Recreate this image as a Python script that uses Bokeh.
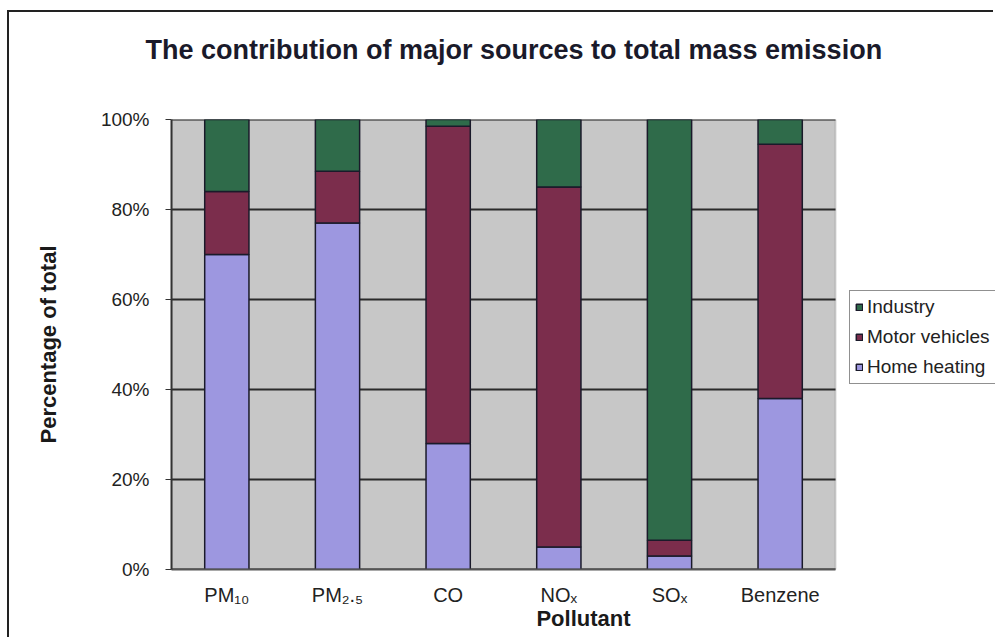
from bokeh.plotting import figure
from bokeh.models import (FixedTicker, PrintfTickFormatter, Legend, LegendItem,
                          Title, Range1d, BoxAnnotation)
from bokeh.embed import file_html
from bokeh.resources import INLINE

pollutants = ["PM₁₀", "PM₂.₅", "CO", "NOₓ", "SOₓ", "Benzene"]
home_heating = [70, 77, 28, 5, 3, 38]
motor_vehicles = [14, 11.5, 70.5, 80, 3.5, 56.5]
industry = [16, 11.5, 1.5, 15, 93.5, 5.5]
series = ["home_heating", "motor_vehicles", "industry"]
series_labels = ["Home heating", "Motor vehicles", "Industry"]
colors = ["#9d97e0", "#7b2d4c", "#2f6b4a"]
y_ticks = [0, 20, 40, 60, 80, 100]
title_text = "The contribution of major sources to total mass emission"

FONT = "Liberation Sans"
n = len(pollutants)
xpos = [i + 0.5 for i in range(n)]
# plot area occupies 664 px of the 824 px wide frame; legend sits to its right
x_end = n * 824 / 664

p = figure(x_range=Range1d(0, x_end), y_range=Range1d(0, 100),
           width=986, height=627,
           output_backend="svg", toolbar_location=None, title_location=None,
           min_border_left=162, min_border_right=0,
           min_border_top=0, min_border_bottom=70)
p.styles = {"margin-left": "7px", "margin-top": "10px",
            "border-left": "2px solid #222", "border-top": "2px solid #222"}

spacer = Title(text=" ", text_font_size="1px", standoff=31)
p.add_layout(spacer, "above")
title = Title(text=title_text, align="left", text_font=FONT,
              text_font_size="27px", text_font_style="bold",
              text_color="#1a1a2a", standoff=41, offset=-26)
p.add_layout(title, "above")

p.background_fill_color = "white"
p.outline_line_color = None
p.xgrid.grid_line_color = None
p.ygrid.grid_line_color = None

plot_area = BoxAnnotation(left=0, right=n, bottom=0, top=100,
                          fill_color="#c7c7c7", fill_alpha=1,
                          line_color="#808080", line_width=2, level="underlay")
p.add_layout(plot_area)

p.segment(x0=[0] * len(y_ticks), x1=[n] * len(y_ticks), y0=y_ticks, y1=y_ticks,
          line_color="#2a2a2a", line_width=2)

data = dict(x=xpos, home_heating=home_heating,
            motor_vehicles=motor_vehicles, industry=industry)
rs = p.vbar_stack(series, x="x", width=0.4, color=colors,
                  line_color="#1a1a2a", line_width=1.5, source=data)

p.yaxis.ticker = FixedTicker(ticks=y_ticks)
p.yaxis.formatter = PrintfTickFormatter(format="%d%%")
p.yaxis.minor_tick_line_color = None
p.yaxis.major_tick_out = 6
p.yaxis.major_tick_in = 0
p.yaxis.major_tick_line_color = "#333"
p.yaxis.axis_line_color = "#333"
p.yaxis.axis_line_width = 2
p.yaxis.major_label_standoff = 16
p.yaxis.major_label_text_font = FONT
p.yaxis.major_label_text_font_size = "19px"
p.yaxis.major_label_text_color = "#222"
p.yaxis.axis_label = "Percentage of total"
p.yaxis.axis_label_text_font = FONT
p.yaxis.axis_label_text_font_size = "22px"
p.yaxis.axis_label_text_font_style = "bold"
p.yaxis.axis_label_text_color = "#1a1a1a"
p.yaxis.axis_label_standoff = 37

p.xaxis.ticker = FixedTicker(ticks=xpos)
p.xaxis.major_label_overrides = {x: lab for x, lab in zip(xpos, pollutants)}
p.xaxis.bounds = (0, n)
p.xaxis.minor_tick_line_color = None
p.xaxis.major_tick_out = 0
p.xaxis.major_tick_in = 0
p.xaxis.axis_line_color = "#555"
p.xaxis.axis_line_width = 2
p.xaxis.major_label_standoff = 14
p.xaxis.major_label_text_font = FONT
p.xaxis.major_label_text_font_size = "20px"
p.xaxis.major_label_text_color = "#222"
p.xaxis.axis_label = "Pollutant"
p.xaxis.axis_label_text_font = FONT
p.xaxis.axis_label_text_font_size = "22px"
p.xaxis.axis_label_text_font_style = "bold"
p.xaxis.axis_label_text_color = "#1a1a1a"
p.xaxis.axis_label_standoff = -3

items = [LegendItem(label=series_labels[i], renderers=[rs[i]]) for i in (2, 1, 0)]
legend = Legend(items=items, location=(678, 185),
                label_text_font=FONT, label_text_font_size="19px",
                label_text_color="#222", label_standoff=4,
                glyph_width=8, glyph_height=8, label_height=20,
                spacing=8, padding=5, margin=0,
                border_line_color="#222", border_line_width=1.5,
                background_fill_color="white", background_fill_alpha=1)
p.add_layout(legend, "center")

open("out.html", "w").write(file_html(p, INLINE))
